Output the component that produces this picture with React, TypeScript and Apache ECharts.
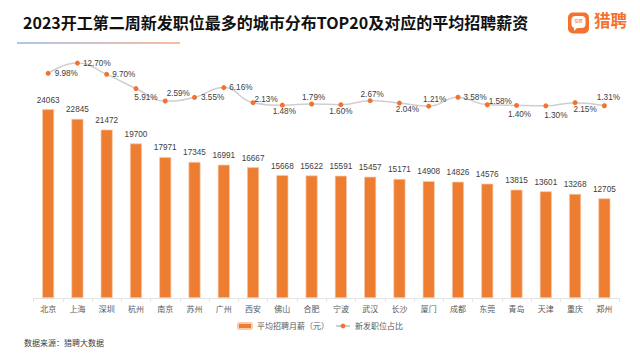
import React, { useEffect, useRef } from "react";
import * as echarts from "echarts";

const titleText = "2023开工第二周新发职位最多的城市分布TOP20及对应的平均招聘薪资";
const sourceText = "数据来源\uFF1A猎聘大数据";
const salaryName = "平均招聘月薪\uFF08元\uFF09";
const shareName = "新发职位占比";
const cities = ["北京","上海","深圳","杭州","南京","苏州","广州","西安","佛山","合肥","宁波","武汉","长沙","厦门","成都","东莞","青岛","天津","重庆","郑州"];
const salary = [24063,22845,21472,19700,17971,17345,16991,16667,15668,15622,15591,15457,15171,14908,14826,14576,13815,13601,13268,12705];
const share = [9.98,12.70,9.70,5.91,2.59,3.55,6.16,2.13,1.48,1.79,1.60,2.67,2.04,1.21,3.58,1.58,1.40,1.30,2.15,1.31];
const labelPlace: [string, number, number][] = [
  ["right",1,0],["right",0,0],["right",0,0],["bottom",10,-1],["top",13,2],["right",1,0],["right",0,0],["top",13,6],
  ["bottom",2,-3],["top",2,3],["bottom",0,-3],["top",2,3],["bottom",8,-3],["top",6,3],["right",0,0],["top",13,6],
  ["bottom",3,-1],["bottom",10,0],["bottom",10,-3],["top",4,1],
];

export default function App() {
  const ref = useRef<HTMLDivElement>(null);
  useEffect(() => {
    const chart = echarts.init(ref.current!, null, { renderer: "svg" });
    const font = "'Liberation Sans', 'Noto Sans CJK SC', sans-serif";
    chart.setOption({
      animation: false,
      backgroundColor: "#fff",
      textStyle: { fontFamily: font },
      grid: { left: 33.5, right: 21, top: 47, bottom: 62 },
      legend: {
        top: 317, left: "center", itemWidth: 14, itemHeight: 6, itemGap: 6,
        textStyle: { fontSize: 8, color: "#595959", fontFamily: font },
        data: [salaryName, shareName],
      },
      xAxis: {
        type: "category", data: cities,
        axisLine: { lineStyle: { color: "#e4e4e4" } },
        axisTick: { show: true, length: 4, lineStyle: { color: "#e4e4e4" } },
        axisLabel: { fontSize: 8, color: "#595959", margin: 7, interval: 0 },
      },
      yAxis: [
        { type: "value", min: 0, max: 32000, show: false },
        { type: "value", min: -50, max: 17, show: false },
      ],
      series: [
        {
          name: salaryName, type: "bar", data: salary, barWidth: 12,
          itemStyle: { color: "#ED7D31", borderColor: "#F8CBAD", borderWidth: 0.7 },
          label: { show: true, position: "top", distance: 5, fontSize: 8.2, color: "#404040" },
        },
        {
          name: shareName, type: "line", yAxisIndex: 1, data: share.map((v, i) => ({
            value: v,
            label: { position: labelPlace[i][0], offset: [labelPlace[i][1], labelPlace[i][2]] },
          })),
          smooth: 0.5, symbol: "circle", symbolSize: 5,
          lineStyle: { color: "#D0CECE", width: 1.5 },
          itemStyle: { color: "#F4712F" },
          label: { show: true, fontSize: 8.2, color: "#404040", distance: 3, formatter: (p: any) => p.value.toFixed(2) + "%" },
        },
      ],
      graphic: [
        { type: "text", left: 23, top: 14, style: { text: titleText, fontSize: 16, fontWeight: "bold", fill: "#111", fontFamily: "'Noto Sans CJK SC', sans-serif" } },
        { type: "rect", shape: { x: 17, y: 42.5, width: 163, height: 1 }, style: { fill: new echarts.graphic.LinearGradient(0, 0, 1, 0, [{ offset: 0, color: "#5B8FDB" }, { offset: 1, color: "#F27A3A" }]) } },
        { type: "text", left: 24, top: 339, style: { text: sourceText, fontSize: 8, fill: "#404040", fontFamily: font } },
        { type: "rect", shape: { x: 568, y: 12.5, width: 21, height: 21, r: 5 }, style: { fill: "#F4712F" } },
        { type: "rect", shape: { x: 571.5, y: 16, width: 14, height: 12, r: 4 }, style: { fill: "#fff" } },
        { type: "polygon", shape: { points: [[574, 27], [578, 27], [574, 31]] }, style: { fill: "#fff" } },
        { type: "text", x: 574.5, y: 19.5, style: { text: "猎聘", fontSize: 4, fill: "#F4712F", fontFamily: font } },
        { type: "text", x: 594, y: 12, style: { text: "猎聘", fontSize: 16.5, fontWeight: "bold", fill: "#F4712F", fontFamily: "'Noto Sans CJK SC', sans-serif" } },
      ],
    });
    return () => chart.dispose();
  }, []);
  return <div ref={ref} style={{ position: "absolute", left: 0, top: 0, width: 640, height: 360 }} />;
}
